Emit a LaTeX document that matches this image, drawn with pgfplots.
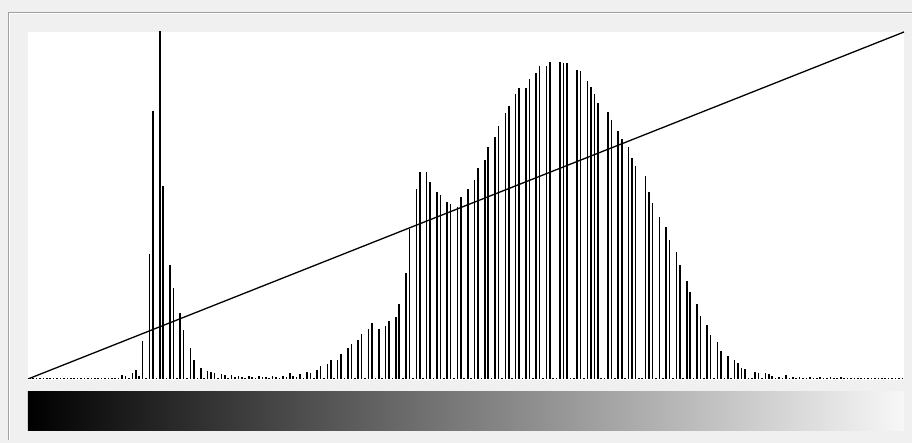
\documentclass[border=0pt]{standalone}
\usepackage{pgfplots}
\usepackage{pgfplotstable}
\pgfplotsset{compat=1.18}

\definecolor{panel}{HTML}{F0F0F0}
\definecolor{frameline}{HTML}{A0A0A0}

% histogram counts, one per level 0..255 (in pixel units of bar height)
\pgfplotstableread[row sep=\\]{
count\\
1\\1\\1\\1\\1\\1\\1\\1\\1\\1\\1\\1\\1\\1\\1\\1\\
1\\1\\1\\1\\1\\1\\1\\1\\1\\1\\1\\4\\3\\1\\6\\9\\
3\\38\\1\\125\\268\\1\\360\\193\\1\\114\\91\\1\\66\\49\\1\\31\\
19\\1\\11\\1\\8\\7\\6\\1\\5\\4\\1\\4\\2\\3\\2\\1\\
3\\2\\1\\3\\2\\2\\1\\3\\2\\1\\3\\2\\6\\3\\2\\5\\
1\\7\\6\\1\\9\\13\\1\\15\\19\\1\\19\\25\\1\\31\\35\\1\\
39\\45\\1\\50\\56\\1\\50\\1\\53\\58\\1\\62\\75\\1\\106\\150\\
1\\190\\207\\1\\207\\197\\1\\187\\184\\1\\177\\175\\1\\172\\182\\1\\
190\\1\\199\\211\\1\\219\\232\\1\\242\\253\\1\\266\\273\\1\\285\\291\\
1\\291\\300\\1\\306\\313\\1\\313\\317\\1\\1\\317\\316\\316\\1\\1\\
309\\308\\1\\298\\292\\285\\276\\1\\1\\267\\259\\1\\248\\240\\1\\232\\
221\\213\\1\\1\\203\\187\\176\\1\\162\\1\\152\\139\\1\\127\\114\\1\\
98\\87\\1\\75\\63\\1\\54\\44\\1\\37\\28\\1\\23\\1\\19\\16\\
11\\10\\1\\1\\7\\6\\1\\6\\5\\3\\1\\2\\1\\4\\1\\2\\
1\\2\\1\\1\\2\\1\\1\\2\\1\\1\\2\\1\\1\\2\\1\\1\\
1\\1\\1\\1\\1\\1\\1\\1\\1\\1\\1\\1\\1\\1\\1\\1\\
}\hist

\begin{document}
\begin{tikzpicture}
\useasboundingbox (-28pt,-64pt) rectangle (884pt,379pt);
% dialog panel and group frame
\fill[panel] (-28pt,-64pt) rectangle (884pt,379pt);
\draw[frameline, line width=1.5pt] (-19.5pt,-61pt) -- (-19.5pt,366.5pt) -- (884pt,366.5pt);
\draw[white, line width=1pt] (-18pt,-61pt) -- (-18pt,365pt) -- (884pt,365pt);
% histogram area and level gradient
\fill[white] (0pt,-1pt) rectangle (876pt,347pt);
\shade[left color=black, right color=white!97!black] (0pt,-13pt) rectangle (876pt,-52pt);

\begin{axis}[
	at={(0pt,0pt)}, anchor=south west,
	scale only axis,
	width=876pt, height=347pt,
	xmin=-0.5, xmax=255.5,
	ymin=0, ymax=347,
	hide axis,
]
	\addplot[ycomb, black, line width=1.6pt, mark=none]
		table[x expr=\coordindex, y=count] {\hist};
	\addplot[black, line width=1.3pt, mark=none]
		coordinates {(-0.5,0) (255.5,347)};
\end{axis}
\end{tikzpicture}
\end{document}
